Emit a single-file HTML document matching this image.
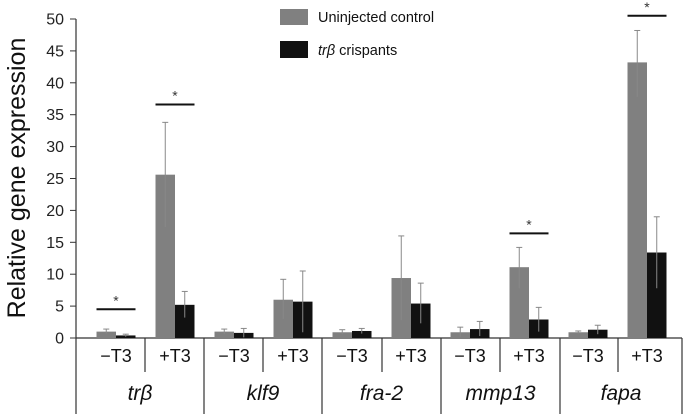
<!DOCTYPE html>
<html><head><meta charset="utf-8"><style>
html,body{margin:0;padding:0;background:#fff;}
svg{display:block;font-family:"Liberation Sans",sans-serif;}
</style></head><body>
<svg id="chart" width="683" height="414"></svg>
<script>
const genes=["trβ","klf9","fra-2","mmp13","fapa"];
const conditions=["−T3","+T3"];
const controlValues=[1.0,25.6,1.0,6.0,0.9,9.4,0.9,11.1,0.9,43.2];
const controlErrLow=[0.7,17.4,0.6,3.0,0.6,2.8,0.2,7.8,0.7,37.8];
const controlErrHigh=[1.4,33.8,1.4,9.2,1.3,16.0,1.7,14.2,1.1,48.2];
const crispValues=[0.4,5.2,0.8,5.7,1.1,5.4,1.4,2.9,1.3,13.4];
const crispErrLow=[0.2,3.2,0.1,0.9,0.7,2.3,0.3,1.0,0.6,7.8];
const crispErrHigh=[0.6,7.3,1.5,10.5,1.5,8.6,2.6,4.8,2.0,19.0];
const yTicks=[0,5,10,15,20,25,30,35,40,45,50];
const sigIndex=[0,1,7,9];
const sigLevel=[4.5,36.6,16.4,50.5];

const NS="http://www.w3.org/2000/svg";
const svg=document.getElementById("chart");
function el(t,a,p){const e=document.createElementNS(NS,t);for(const k in a)e.setAttribute(k,a[k]);(p||svg).appendChild(e);return e;}
const y0=338,pxPer=6.38;
function y(v){return y0-v*pxPer;}
function cx(i){return 116+59*i;}
const bw=19.5;

const ax=el("line",{x1:76,y1:19,x2:76,y2:414,stroke:"#333","stroke-width":1.2});


yTicks.forEach(t=>{
  const tk=el("line",{x1:70,y1:y(t),x2:76,y2:y(t),stroke:"#333"});
  
  
  const tx=el("text",{x:64,y:y(t)+5.5,"text-anchor":"end","font-size":16,fill:"#222"});
  tx.textContent=t;
  
  
});
const yt=el("text",{x:0,y:0,transform:"translate(25,178) rotate(-90)","text-anchor":"middle","font-size":25,fill:"#111"});
yt.textContent="Relative gene expression";



const xb=el("line",{x1:76,y1:y0,x2:682,y2:y0,stroke:"#333","stroke-width":1.2});


const bounds=[76,145,204,263,322,382,441,500,560,618,682];
for(let i=1;i<bounds.length;i++){
  const major=(i%2===0);
  const l=el("line",{x1:bounds[i],y1:y0,x2:bounds[i],y2:major?414:372,stroke:"#333","stroke-width":1.2});
  
  
}
for(let i=0;i<10;i++){
  const t=el("text",{x:cx(i),y:362,"text-anchor":"middle","font-size":18,fill:"#111"});
  t.textContent=conditions[i%2];
  
  
}
genes.forEach((g,k)=>{
  const t=el("text",{x:(bounds[2*k]+bounds[2*k+2])/2,y:400,"text-anchor":"middle","font-size":21,"font-style":"italic",fill:"#111"});
  t.textContent=g;
  
  
});

function errbar(x,lo,hi){
  const g=el("g",{stroke:"#888","stroke-width":1});
  
  
  el("line",{x1:x,y1:y(lo),x2:x,y2:y(hi)},g);
  el("line",{x1:x-3,y1:y(hi),x2:x+3,y2:y(hi)},g);
}
for(let i=0;i<10;i++){
  const b1=el("rect",{x:cx(i)-bw,y:y(controlValues[i]),width:bw,height:controlValues[i]*pxPer,fill:"#808080"});
  
  
  const b2=el("rect",{x:cx(i),y:y(crispValues[i]),width:bw,height:crispValues[i]*pxPer,fill:"#111"});
  
  
  errbar(cx(i)-bw/2,controlErrLow[i],controlErrHigh[i]);
  errbar(cx(i)+bw/2,crispErrLow[i],crispErrHigh[i]);
}
sigIndex.forEach((i,k)=>{
  const l=el("line",{x1:cx(i)-bw,y1:y(sigLevel[k]),x2:cx(i)+bw,y2:y(sigLevel[k]),stroke:"#111","stroke-width":2});
  
  
  const s=el("text",{x:cx(i),y:y(sigLevel[k])-4,"text-anchor":"middle","font-size":14,fill:"#333"});
  s.textContent="*";
  
  
});

const lg=el("g",{});


const r1=el("rect",{x:280,y:9,width:28,height:16,fill:"#808080"},lg);


const t1=el("text",{x:318,y:22,"font-size":14.5,fill:"#111"},lg);
t1.textContent="Uninjected control";


const r2=el("rect",{x:280,y:41,width:28,height:17,fill:"#111"},lg);


const t2=el("text",{x:318,y:55,"font-size":14.5,fill:"#111"},lg);
t2.innerHTML='<tspan font-style="italic">trβ</tspan> crispants';


</script>
</body></html>
